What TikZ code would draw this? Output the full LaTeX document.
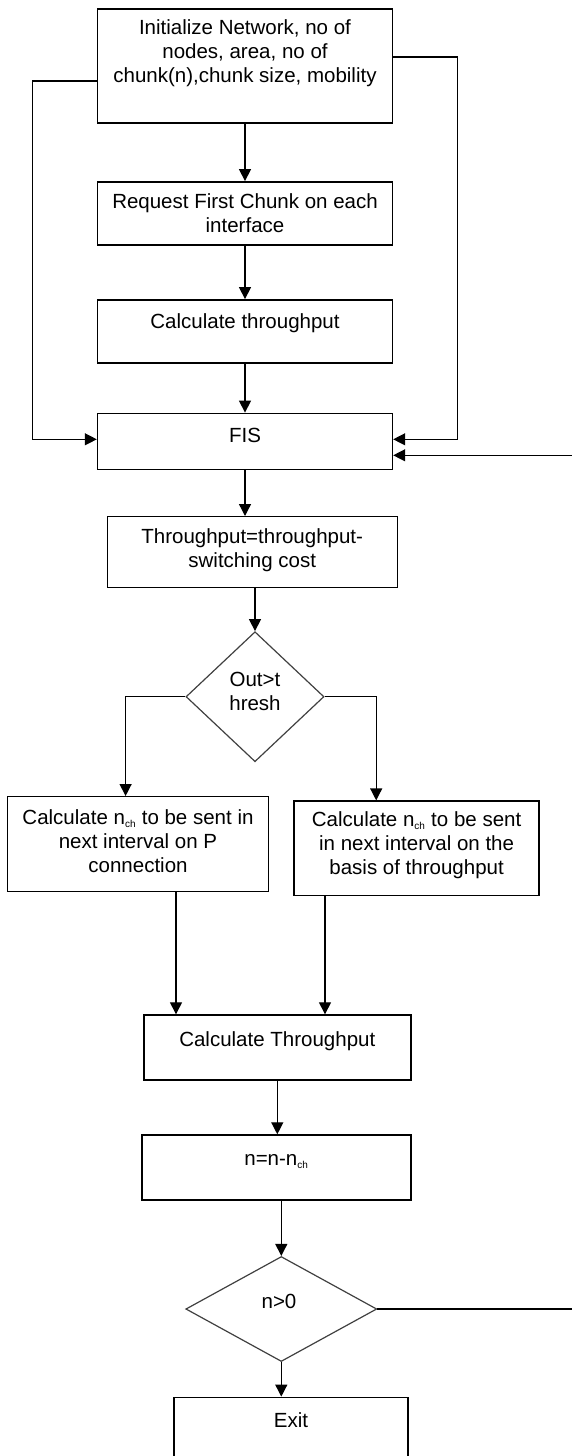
\documentclass[tikz,border=0pt]{standalone}
\usepackage{fontspec}
\setmainfont{Liberation Sans}
\usetikzlibrary{arrows.meta,shapes.geometric,positioning}
\tikzset{>={Triangle[width=12pt,length=12pt]}}
\tikzset{
  stepbox/.style={draw, line width=1.4pt, inner sep=0pt},
  decide/.style={diamond, draw=black!75, line width=1.2pt, inner sep=0pt},
  lbl/.style={align=center, inner sep=0pt, font=\fontsize{20.5}{24}\selectfont},
  flow/.style={->, line width=1.3pt},
}
\newcommand\Nch{n\textsubscript{\fontsize{10}{10}\selectfont ch}}

\begin{document}
\begin{tikzpicture}[x=1pt,y=-1pt]

  \useasboundingbox (0,0) rectangle (571,1456);

  %% boxes, top to bottom
  \node[stepbox, minimum width=295pt, minimum height=114pt] (init) at (245,66) {};
  \node[lbl, below=11.3pt of init.north] (initT)
  {Initialize Network, no of\\nodes, area, no of\\chunk(n),chunk size, mobility};

  \node[stepbox, minimum width=295pt, minimum height=63pt] (req) at (245,213.3) {};
  \node[lbl, below=12.6pt of req.north] (reqT) {Request First Chunk on each\\interface};

  \node[stepbox, minimum width=295pt, minimum height=63pt] (calc) at (245,331.3) {};
  \node[lbl, below=14pt of calc.north] (calcT) {Calculate throughput};

  \node[stepbox, minimum width=295pt, minimum height=56pt] (fis) at (245,441.3) {};
  \node[lbl, below=15pt of fis.north] (fisT) {FIS};

  \node[stepbox, minimum width=290pt, minimum height=70.6pt] (thr) at (252.2,552) {};
  \node[lbl, below=12.3pt of thr.north] (thrT) {Throughput=throughput-\\switching cost};

  \node[decide, minimum width=138pt, minimum height=130pt] (out) at (255,696.7) {};
  \node[lbl] (outT) at (255,691) {Out>t\\hresh};

  \node[stepbox, minimum width=261.5pt, minimum height=95pt] (pcon) at (138,844.2) {};
  \node[lbl, below=13.6pt of pcon.north] (pconT)
  {Calculate \Nch{} to be sent in\\next interval on P\\connection};

  \node[stepbox, minimum width=245pt, minimum height=94.3pt] (tput) at (416.6,848.2) {};
  \node[lbl, below=11.3pt of tput.north] (tputT)
  {Calculate \Nch{} to be sent\\in next interval on the\\basis of throughput};

  \node[stepbox, minimum width=267pt, minimum height=65pt] (calc2) at (277.3,1047.5) {};
  \node[lbl, below=17.3pt of calc2.north] (calc2T) {Calculate Throughput};

  \node[stepbox, minimum width=269pt, minimum height=65pt] (upd) at (276.4,1167.5) {};
  \node[lbl, below=20pt of upd.north] (updT) {n=n-\Nch};

  \node[decide, minimum width=191pt, minimum height=105pt] (more) at (281.3,1309) {};
  \node[lbl] (moreT) at (279,1301) {n>0};

  \node[stepbox, minimum width=234pt, minimum height=120pt] (exit) at (291,1457.3) {};
  \node[lbl, below=15.7pt of exit.north] (exitT) {Exit};

  %% arrows
  \draw[flow] (init.south) -- (req.north);
  \draw[flow] (req.south) -- (calc.north);
  \draw[flow] (calc.south) -- (fis.north);
  \draw[flow] ([yshift=-15pt]init.west) -- ++(-64pt,0) |- ([yshift=2pt]fis.west);
  \draw[flow] ([yshift=9pt]init.east) -- ++(64pt,0) |- ([yshift=2pt]fis.east);
  \coordinate (back) at (576,0);
  \draw[flow] (more.east) -- (more.east -| back) |- ([yshift=-14pt]fis.east);
  \draw[flow] (fis.south) -- (fis.south |- thr.north);
  \draw[flow] (out.north |- thr.south) -- (out.north);
  \draw[flow] (out.west) -| ([xshift=-12.4pt]pcon.north);
  \draw[flow] (out.east) -| ([xshift=-40.4pt]tput.north);
  \draw[flow] ([xshift=38pt]pcon.south) -- ([xshift=38pt]pcon.south |- calc2.north);
  \draw[flow] ([xshift=-91.6pt]tput.south) -- ([xshift=-91.6pt]tput.south |- calc2.north);
  \draw[flow] (calc2.south) -- (calc2.south |- upd.north);
  \draw[flow] (more.north |- upd.south) -- (more.north);
  \draw[flow] (more.south) -- (more.south |- exit.north);

\end{tikzpicture}
\end{document}
